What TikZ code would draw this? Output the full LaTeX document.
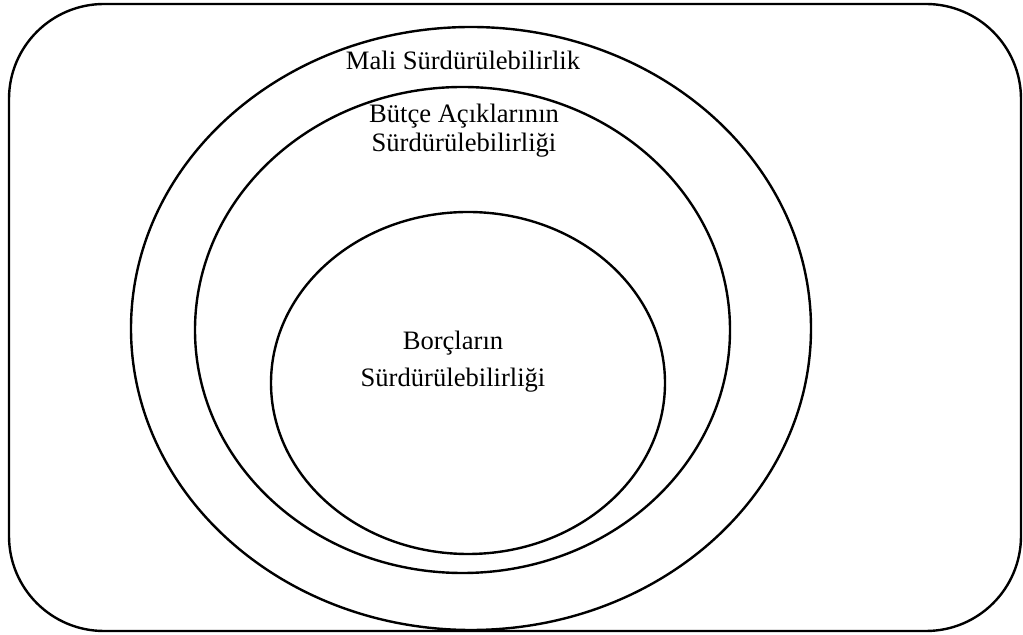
\documentclass[tikz,border=0pt]{standalone}
\usepackage{fontspec}
\setmainfont{Liberation Serif}
\usepackage{tikz}
\usetikzlibrary{positioning,shapes.geometric}
\tikzstyle{frame} = [draw,line width=1.2pt,rounded corners=47.5pt]
\tikzstyle{ring} = [draw,ellipse,line width=1.2pt,inner sep=0pt]
\tikzstyle{caption} = [anchor=base,inner sep=0pt,font=\fontsize{13.3}{16}\selectfont]

\begin{document}
\begin{tikzpicture}[x=0.5pt,y=-0.5pt]
            \useasboundingbox (0,0) rectangle (1023,635);
            \draw[frame] (9,4) rectangle (1021,631);
            \node[ring,minimum width=340pt,minimum height=301.5pt] (mali) at (471,328.5) {};
            \node[ring,minimum width=267.5pt,minimum height=243pt] (butce) at (462.5,330) {};
            \node[ring,minimum width=197pt,minimum height=171pt] (borc) at (468,383) {};
            \node[caption] (maliText) at (463,70) {Mali Sürdürülebilirlik};
            \node[caption] (butceText1) at (464,123) {Bütçe Açıklarının};
            \node[caption] (butceText2) at (464,152) {Sürdürülebilirliği};
            \node[caption] (borcText1) at (453,350) {Borçların};
            \node[caption] (borcText2) at (453,387) {Sürdürülebilirliği};
        \end{tikzpicture}
\end{document}
